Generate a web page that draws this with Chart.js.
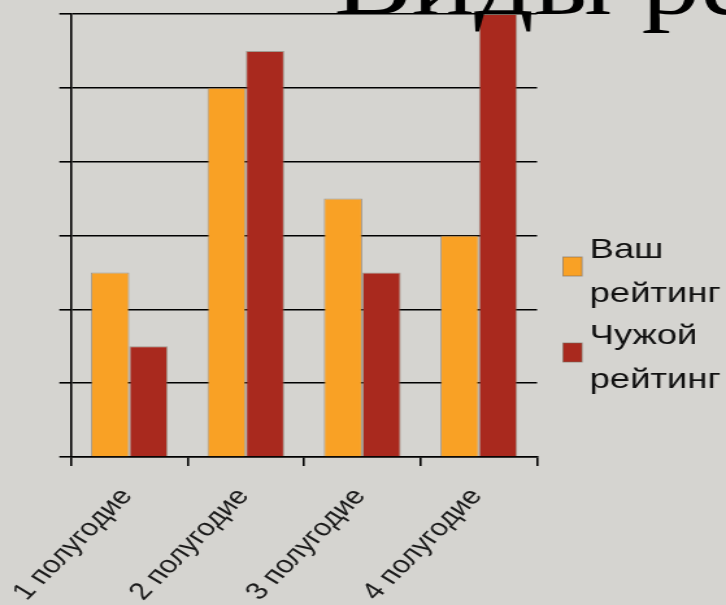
<!DOCTYPE html>
<html><head><meta charset="utf-8">
<script src="https://cdn.jsdelivr.net/npm/chart.js@4/dist/chart.umd.min.js"></script>
<style>
html,body{margin:0;padding:0;background:#d5d4d0;overflow:hidden}
#c{display:block;width:726px !important;height:605px !important}
</style></head><body>
<canvas id="c" width="559" height="605" style="width:726px;height:605px"></canvas>
<script>
const categories = ['1 полугодие', '2 полугодие', '3 полугодие', '4 полугодие'];
const seriesNames = ['Ваш рейтинг', 'Чужой рейтинг'];
const yourRating = [2.5, 5, 3.5, 3];
const otherRating = [1.5, 5.5, 2.5, 6];
const seriesColors = ['#F9A125', '#A9291E'];
const titleText = 'Виды рейтинга';

const overlay = {
  id: 'overlay',
  afterDraw(chart) {
    const ctx = chart.ctx;
    ctx.save();
    chart.data.datasets.forEach((ds, i) => {
      const top = 257 + i * 86;
      ctx.fillStyle = ds.backgroundColor;
      ctx.fillRect(433.5, top, 14.6, 19);
      ctx.strokeStyle = 'rgba(120,105,90,0.6)';
      ctx.lineWidth = 1;
      ctx.strokeRect(433.5, top, 14.6, 19);
      ctx.fillStyle = '#111';
      ctx.font = '28px "Liberation Sans", Arial, sans-serif';
      ctx.textAlign = 'left';
      ctx.textBaseline = 'alphabetic';
      ds.label.split(' ').forEach((w, j) => ctx.fillText(w, 454, top + 1 + j * 44));
    });
    ctx.fillStyle = '#000';
    ctx.font = '90px "Liberation Serif", "Times New Roman", serif';
    ctx.fillText(titleText, 257, 14);
    ctx.restore();
  }
};

new Chart(document.getElementById('c'), {
  type: 'bar',
  data: {
    labels: categories,
    datasets: [
      { label: seriesNames[0], data: yourRating, backgroundColor: seriesColors[0], borderColor: 'rgba(120,105,90,0.55)', borderWidth: 1 },
      { label: seriesNames[1], data: otherRating, backgroundColor: seriesColors[1], borderColor: 'rgba(120,105,90,0.55)', borderWidth: 1 }
    ]
  },
  options: {
    responsive: false,
    animation: false,
    devicePixelRatio: 1,
    layout: { padding: { left: 45.7, top: 14, right: 145.5, bottom: 0 } },
    datasets: { bar: { categoryPercentage: 0.66, barPercentage: 1 } },
    plugins: { legend: { display: false }, tooltip: { enabled: false }, title: { display: false } },
    scales: {
      x: {
        offset: true,
        grid: { display: true, drawOnChartArea: false, drawTicks: true, tickLength: 9, color: '#000', lineWidth: 1.6, offset: true },
        border: { display: true, color: '#000', width: 1.6 },
        ticks: {
          autoSkip: false, minRotation: 52, maxRotation: 52, padding: 17, labelOffset: -2,
          color: '#1a1a1a', font: { family: '"Liberation Sans", Arial, sans-serif', size: 24 }
        },
        afterFit(s) { s.height = 148; s.paddingLeft = 0; s.paddingRight = 0; }
      },
      y: {
        min: 0, max: 6,
        grid: { display: true, drawTicks: true, tickLength: 9, color: '#000', lineWidth: 1.6 },
        border: { display: true, color: '#000', width: 1.6 },
        ticks: { display: false, stepSize: 1 },
        afterFit(s) { s.width = 9; s.paddingTop = 0; s.paddingBottom = 0; }
      }
    }
  },
  plugins: [overlay]
});
</script>
</body></html>
